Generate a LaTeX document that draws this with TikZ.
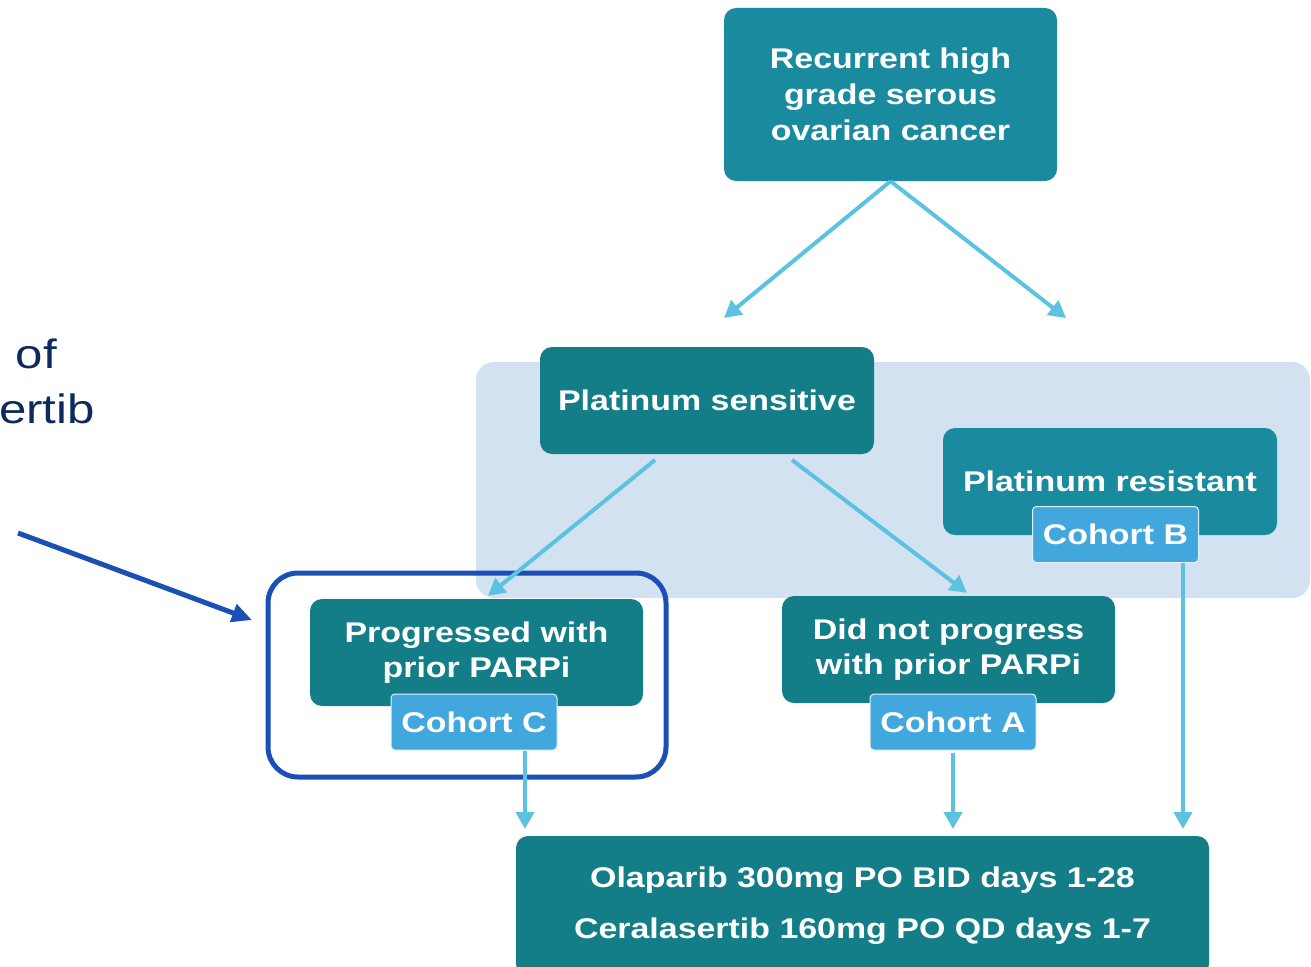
\documentclass[tikz,border=0pt]{standalone}
\usepackage{fontspec}
\usetikzlibrary{arrows.meta,calc}
\newfontfamily\boxfont[FakeStretch=1.19]{Liberation Sans}
\newfontfamily\sidefont[FakeStretch=1.2]{Liberation Sans}
\definecolor{tealbox}{HTML}{137E88}
\definecolor{tealtop}{HTML}{1A8A9E}
\definecolor{cohortblue}{HTML}{42A7DC}
\definecolor{flowline}{HTML}{5BC2E2}
\definecolor{panelblue}{HTML}{D3E2F0}
\definecolor{navytext}{HTML}{0D2A5C}
\definecolor{focusblue}{HTML}{1A50B5}
\tikzset{
  x=1pt, y=-1pt,
  stagebox/.style={fill=tealbox, rounded corners=12pt, text=white,
    align=center, inner sep=0pt,
    font=\boxfont\bfseries\fontsize{28.5}{35}\selectfont},
  cohortbox/.style={fill=cohortblue, draw=white!85!cohortblue, line width=1pt,
    rounded corners=4pt, text=white, inner sep=0pt,
    minimum width=166pt, minimum height=56pt,
    font=\boxfont\bfseries\fontsize{28.5}{33}\selectfont},
  flow/.style={draw=flowline, line width=4pt,
    -{Triangle[length=17pt,width=18pt]}},
}
\begin{document}
\begin{tikzpicture}
\clip (0,0) rectangle (1311,966);
\useasboundingbox (0,0) rectangle (1311,966);
\fill[white] (0,0) rectangle (1311,966);

% shaded platinum status panel
\fill[panelblue, rounded corners=18pt] (476,362) rectangle (1310,598);

% side title fragment
\node[anchor=base east, text=navytext, inner sep=0pt,
  font=\sidefont\fontsize{41}{47}\selectfont] (ttlA) at (57,368) {of};
\node[anchor=base east, text=navytext, inner sep=0pt,
  font=\sidefont\fontsize{41}{47}\selectfont] (ttlB) at (95,423) {ertib};

% stage boxes
\node[stagebox, fill=tealtop, minimum width=333pt, minimum height=173pt,
  font=\boxfont\bfseries\fontsize{28.5}{36}\selectfont] (rec) at (890.5,94.5)
  {Recurrent high\\grade serous\\ovarian cancer};
\node[stagebox, minimum width=334pt, minimum height=107pt] (sens) at (707,400.5)
  {Platinum sensitive};
\node[stagebox, fill=tealtop, minimum width=334pt, minimum height=107pt] (res) at (1110,481.5)
  {Platinum resistant};
\node[stagebox, minimum width=333pt, minimum height=107pt] (prog) at (476.5,652.5)
  {Progressed with\\prior PARPi};
\node[stagebox, minimum width=333pt, minimum height=107pt] (noprog) at (948.5,649.5)
  {Did not progress\\with prior PARPi};
\node[stagebox, minimum width=693pt, minimum height=140pt,
  font=\boxfont\bfseries\fontsize{28.5}{51}\selectfont] (treat) at (862.5,906)
  {Olaparib 300mg PO BID days 1-28\\Ceralasertib 160mg PO QD days 1-7};

% cohort labels
\node[cohortbox] (cohB) at (1115.5,534.5) {Cohort B};
\node[cohortbox] (cohC) at (474,722) {Cohort C};
\node[cohortbox] (cohA) at (953,722) {Cohort A};

% highlight around cohort C
\draw[focusblue, line width=5pt, rounded corners=30pt] (268,573) rectangle (666,777);
\coordinate (ptr) at (18,533);
\coordinate (ptrEnd) at (252,620);
\draw[focusblue, line width=5pt, -{Triangle[length=20pt,width=18pt]}] (ptr) -- (ptrEnd);

% flow connectors
\coordinate (splitL) at (724,318);
\coordinate (splitR) at (1066,318);
\draw[flow] (rec.south) -- (splitL);
\draw[flow] (rec.south) -- (splitR);
\coordinate (sensL) at (655,460);
\coordinate (sensR) at (792,460);
\draw[flow] (sensL) -- ($(prog.north)+(11.5,-3)$);
\draw[flow] (sensR) -- ($(noprog.north)+(18.5,-3)$);
\coordinate (inC) at (525,829);
\coordinate (inA) at (953,829);
\coordinate (inB) at (1183,829);
\draw[flow] (cohC.south -| inC) -- (inC);
\draw[flow] ($(cohA.south)+(0,2)$) -- (inA);
\draw[flow] (cohB.south -| inB) -- (inB);
\end{tikzpicture}
\end{document}
